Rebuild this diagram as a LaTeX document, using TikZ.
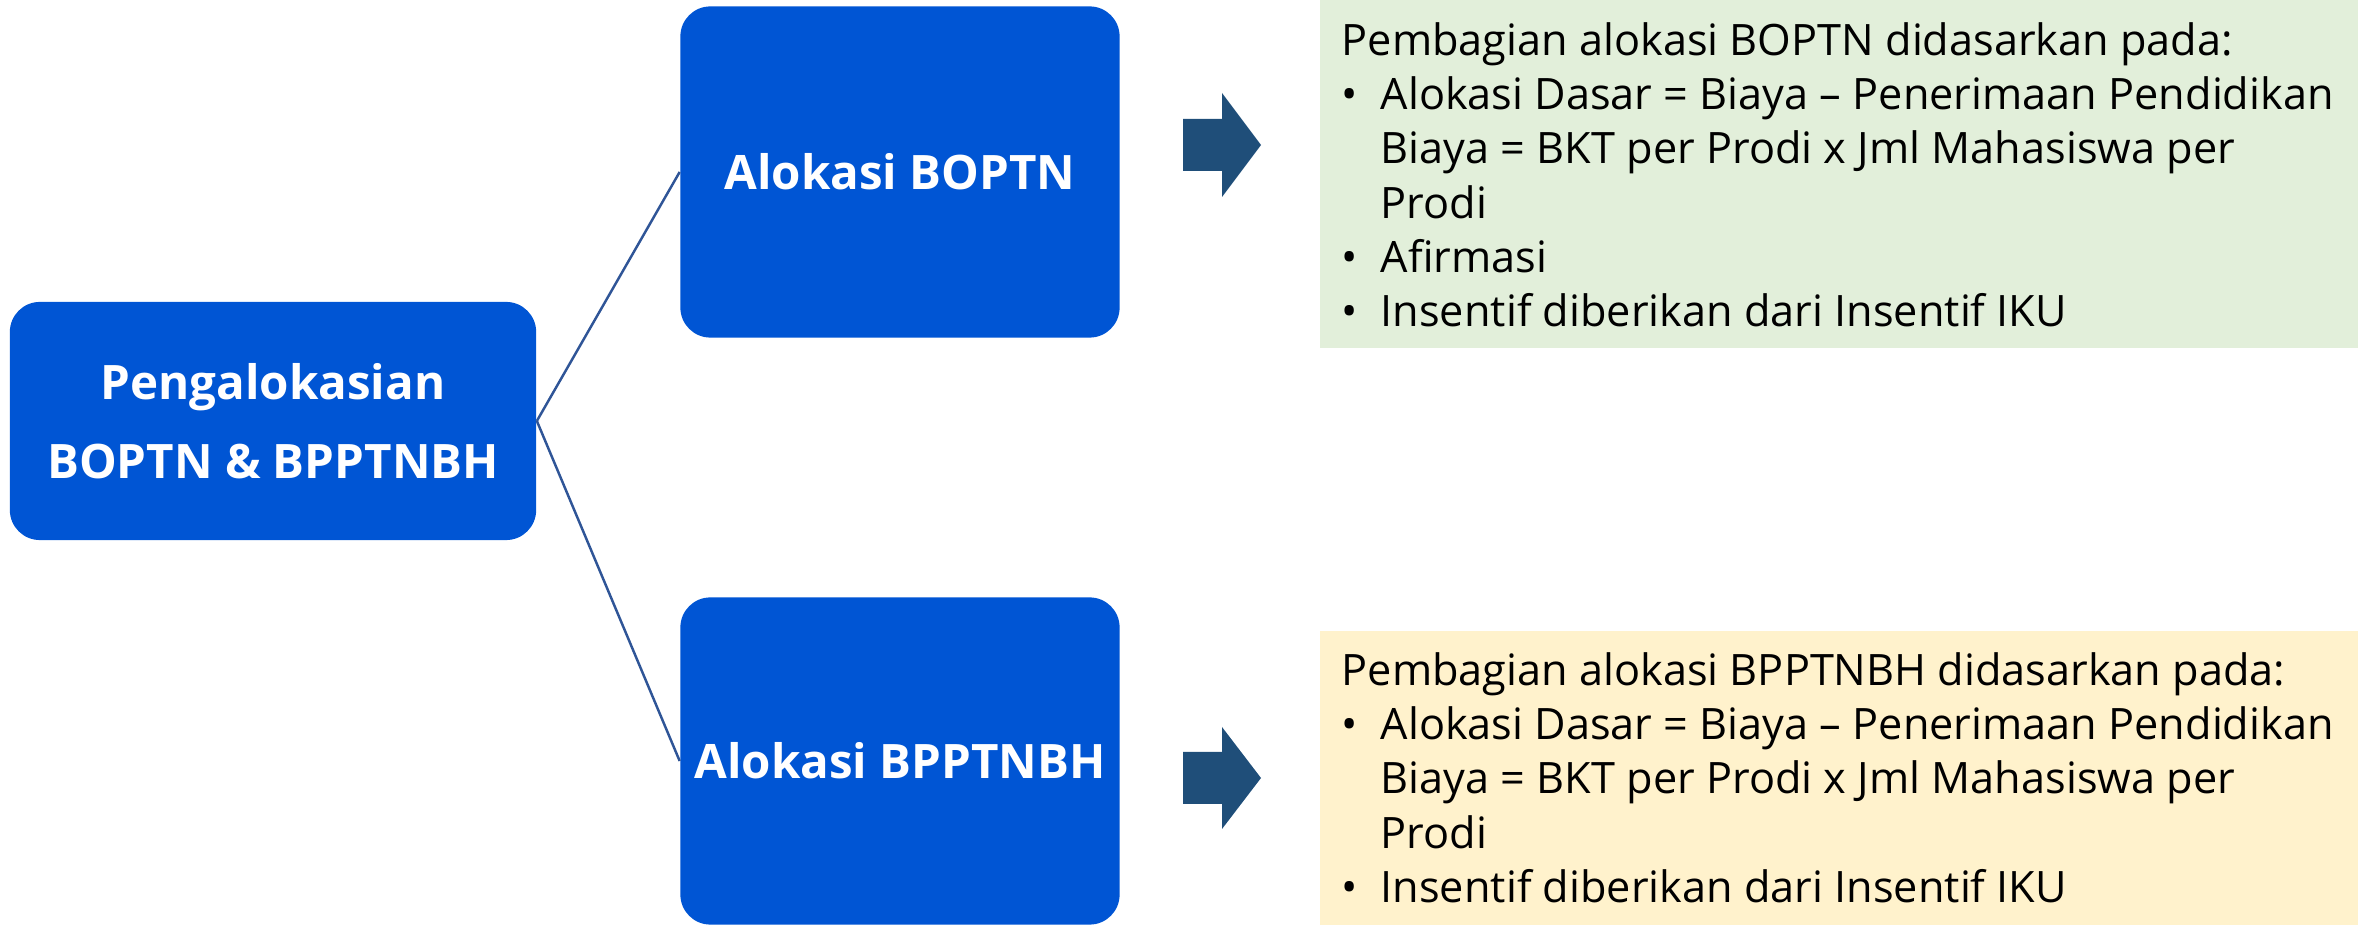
\documentclass[tikz,border=0pt]{standalone}
\usepackage{fontspec}
\setmainfont{Open Sans}
\usepackage{xcolor}
\definecolor{boxblue}{HTML}{0055D4}
\definecolor{arrowblue}{HTML}{1F4E79}
\definecolor{linkblue}{HTML}{2F5597}
\definecolor{notegreen}{HTML}{E2EFDA}
\definecolor{noteyellow}{HTML}{FFF2CC}
\newcommand{\bul}{\makebox[0.39cm][l]{\textbullet}}
\newcommand{\ind}{\hspace*{0.39cm}}

\begin{document}
\begin{tikzpicture}[x=0.01cm, y=-0.01cm,
  box/.style = {fill=boxblue, rounded corners=0.3cm, inner sep=0pt, text=white, align=center, font=\fontsize{13.5}{22.4}\selectfont\bfseries},
  notebg/.style = {inner sep=0pt, minimum width=10.38cm},
  note/.style = {anchor=north west, inner sep=0pt, align=left, font=\fontsize{12.3}{15.4}\selectfont},
  link/.style = {draw=linkblue, line width=0.7pt}]
\useasboundingbox (0,0) rectangle (2362,925);
\node[box, minimum width=5.26cm, minimum height=2.38cm] (root) at (273,421) {Pengalokasian\\BOPTN \& BPPTNBH};
\node[box, minimum width=4.39cm, minimum height=3.31cm] (boptn) at (900,172) {Alokasi BOPTN};
\node[box, minimum width=4.39cm, minimum height=3.27cm] (bpptnbh) at (900,761) {Alokasi BPPTNBH};
\draw[link] (root.east) -- (boptn.west);
\draw[link] (root.east) -- (bpptnbh.west);
% arrows
\fill[arrowblue] (1183,119) -- (1222,119) -- (1222,93) -- (1261,145) -- (1222,197) -- (1222,171) -- (1183,171) -- cycle;
\fill[arrowblue] (1183,752) -- (1222,752) -- (1222,727) -- (1261,778) -- (1222,829) -- (1222,804) -- (1183,804) -- cycle;
% notes
\node[notebg, fill=notegreen, minimum height=3.48cm] (greenbg) at (1839,174) {};
\node[note] (boptnnote) at (1341,22) {Pembagian alokasi BOPTN didasarkan pada:\\
\bul Alokasi Dasar = Biaya -- Penerimaan Pendidikan\\
\ind Biaya = BKT per Prodi x Jml Mahasiswa per\\
\ind Prodi\\
\bul Afirmasi\\
\bul Insentif diberikan dari Insentif IKU};
\node[notebg, fill=noteyellow, minimum height=2.93cm] (yellowbg) at (1839,778) {};
\node[note] (bpptnbhnote) at (1341,652) {Pembagian alokasi BPPTNBH didasarkan pada:\\
\bul Alokasi Dasar = Biaya -- Penerimaan Pendidikan\\
\ind Biaya = BKT per Prodi x Jml Mahasiswa per\\
\ind Prodi\\
\bul Insentif diberikan dari Insentif IKU};
\end{tikzpicture}
\end{document}
